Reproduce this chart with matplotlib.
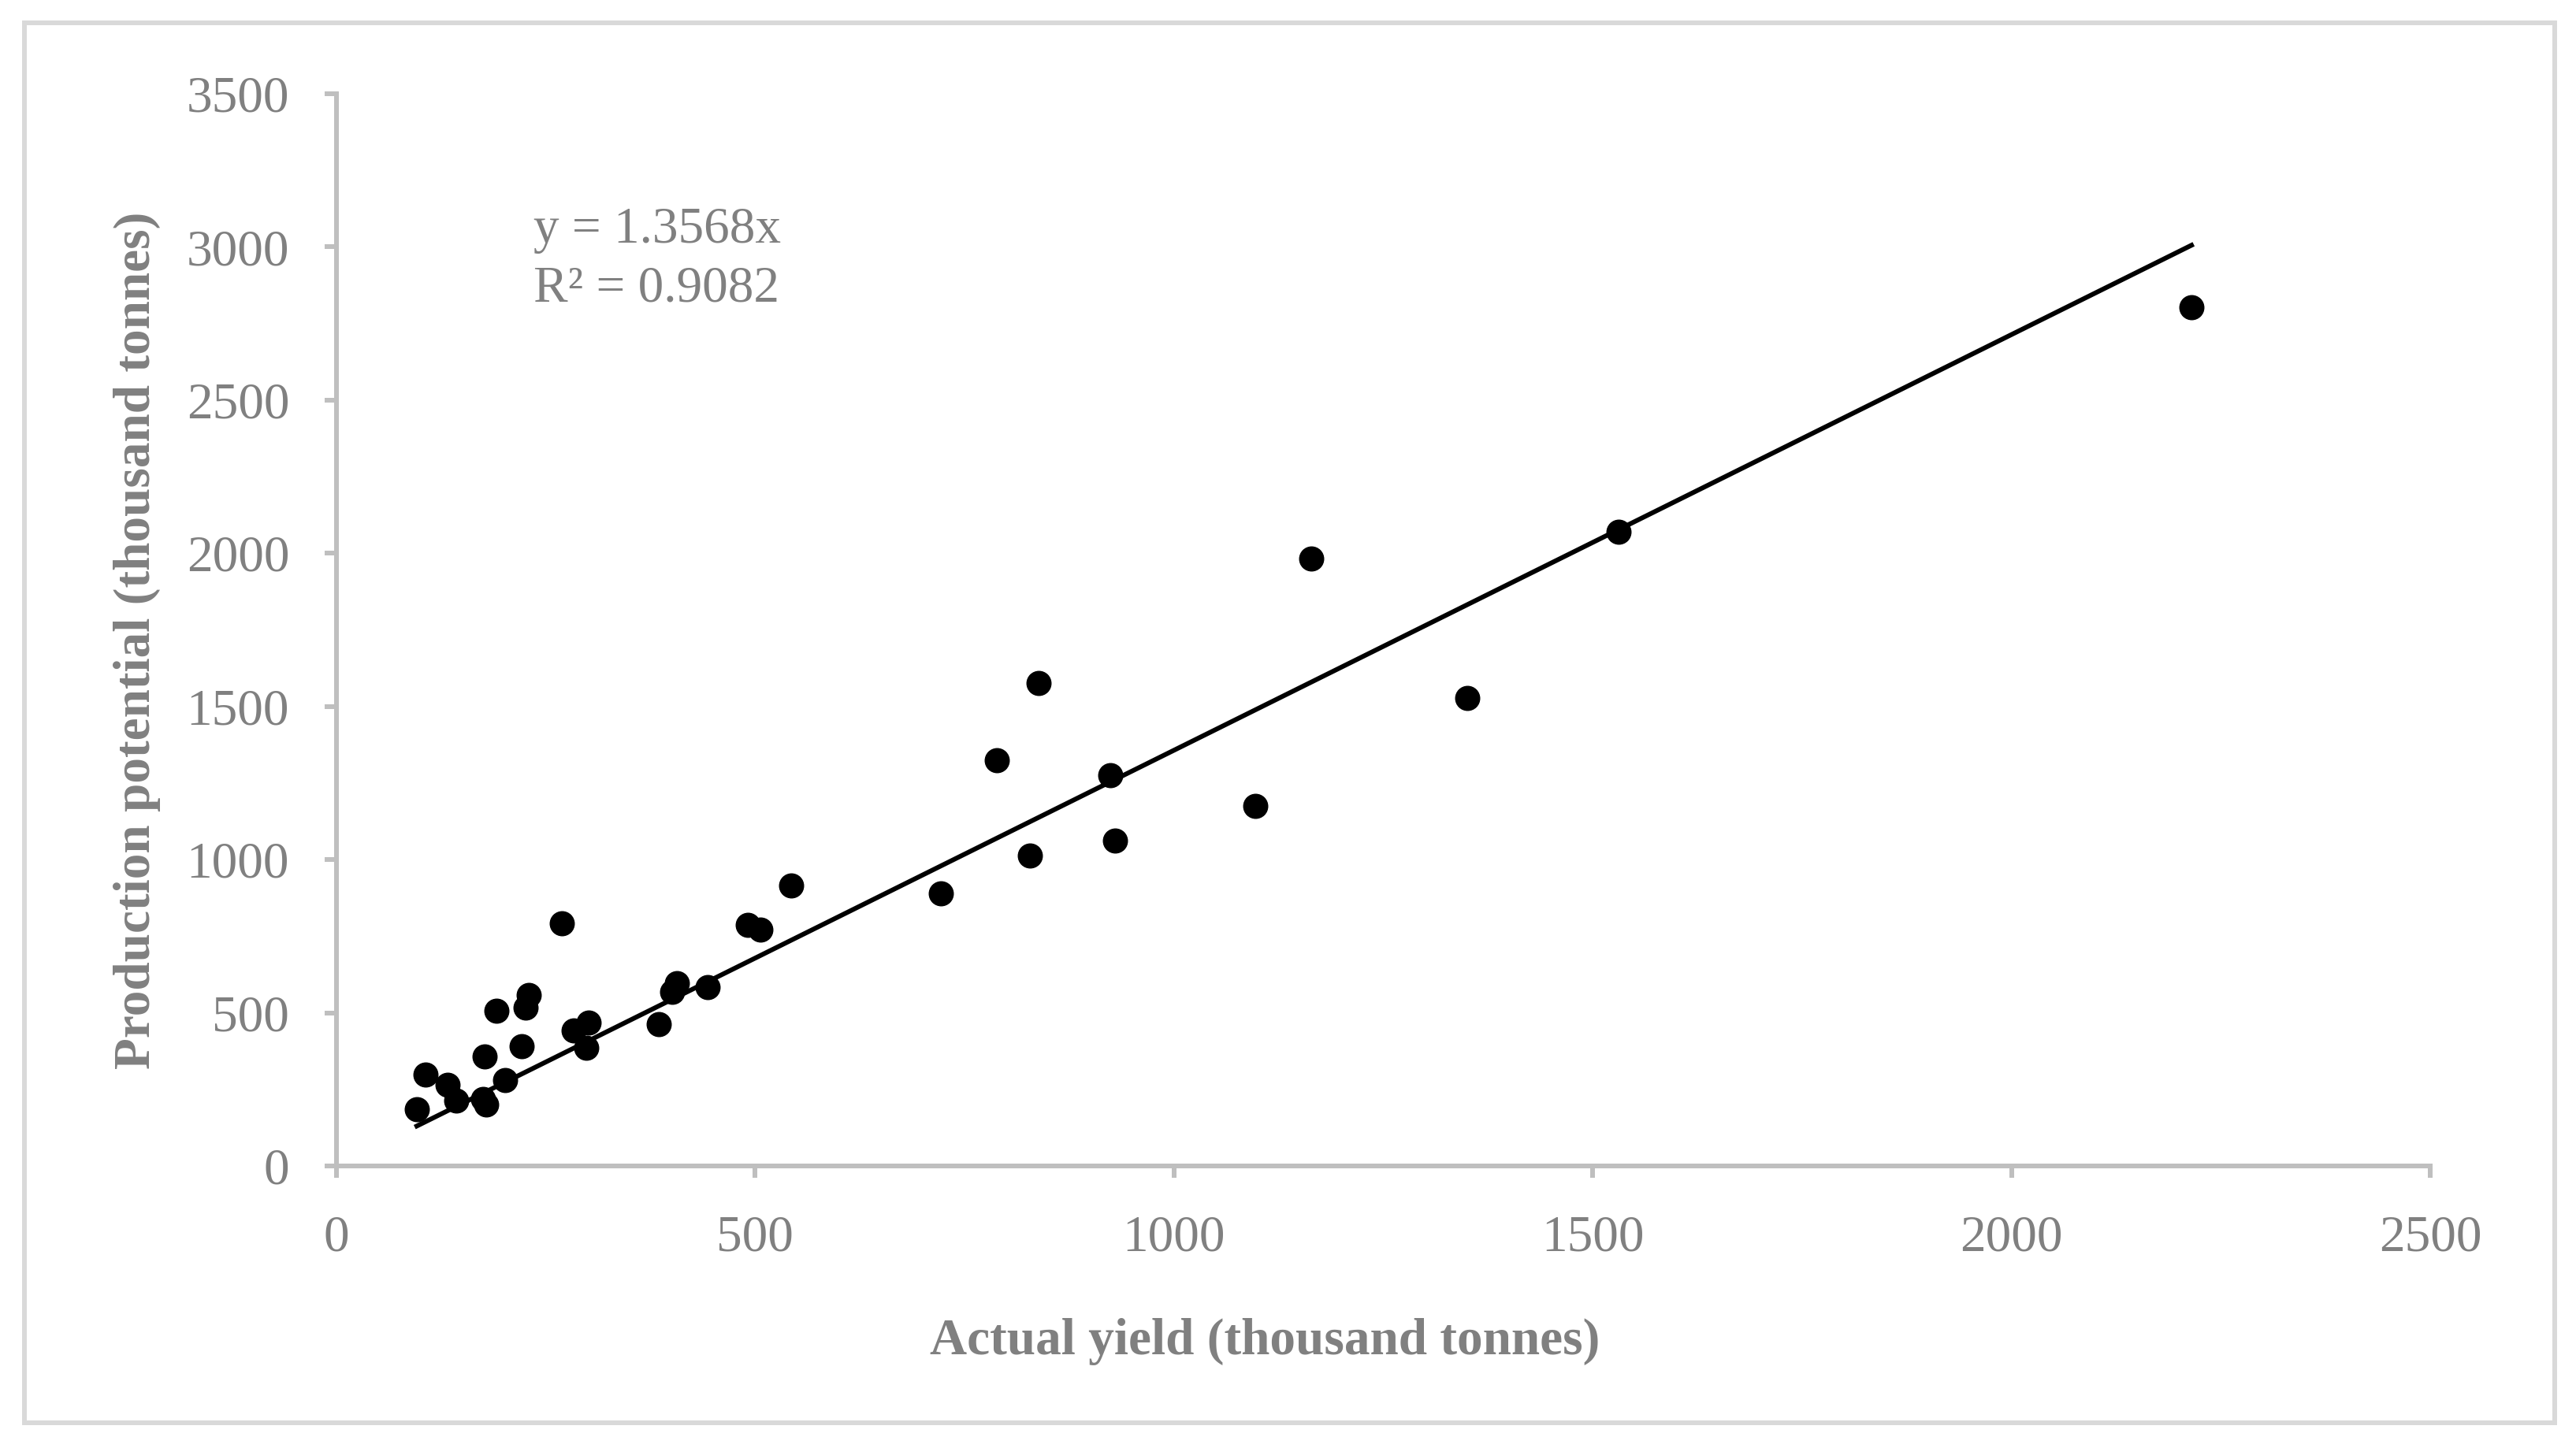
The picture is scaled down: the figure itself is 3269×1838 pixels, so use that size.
import matplotlib.pyplot as plt
from matplotlib.patches import Rectangle

# Datos (miles de toneladas)
actual_yield = [96, 106, 133, 143, 175, 179, 201, 177, 191, 230, 226, 221, 269, 283, 301,
                298, 385, 401, 407, 443, 491, 506, 543, 722, 789, 828, 838, 924, 930,
                1097, 1164, 1350, 1531, 2215]
production_potential = [185, 298, 266, 214, 219, 201, 281, 358, 506, 557, 518, 390, 793,
                        442, 468, 386, 463, 567, 596, 583, 787, 771, 915, 890, 1324, 1013,
                        1576, 1276, 1061, 1174, 1983, 1528, 2069, 2803]
slope = 1.3568
r2 = 0.9082
x_ticks = [0, 500, 1000, 1500, 2000, 2500]
y_ticks = [0, 500, 1000, 1500, 2000, 2500, 3000, 3500]

GRIS_TEXTO = '#808080'
GRIS_EJE = '#bfbfbf'

plt.rcParams['font.family'] = ['Liberation Serif', 'DejaVu Serif']

fig = plt.figure(figsize=(32.69, 18.38), dpi=100)
ax = fig.add_axes([0.1306, 0.1948, 0.8128, 0.7405])

# Puntos
ax.plot(actual_yield, production_potential, 'o', color='black', markersize=22, zorder=3)

# Línea de tendencia (y = 1.3568x)
x_min, x_max = min(actual_yield), max(actual_yield)
ax.plot([x_min, x_max], [slope * x_min, slope * x_max], color='black', linewidth=4.3, zorder=2)

ax.text(235, 3055, f'y = {slope}x', fontsize=47, color=GRIS_TEXTO, va='center', ha='left')
ax.text(235, 2862, f'R² = {r2}', fontsize=47, color=GRIS_TEXTO, va='center', ha='left')

ax.set_xlim(0, 2500)
ax.set_ylim(0, 3500)
ax.set_xticks(x_ticks)
ax.set_yticks(y_ticks)

for lado in ['top', 'right']:
    ax.spines[lado].set_visible(False)
for lado in ['left', 'bottom']:
    ax.spines[lado].set_color(GRIS_EJE)
    ax.spines[lado].set_linewidth(4.3)

ax.tick_params(axis='both', colors=GRIS_EJE, length=11, width=4.3, labelsize=47,
               labelcolor=GRIS_TEXTO)
ax.tick_params(axis='y', pad=32)
ax.tick_params(axis='x', pad=34)

ax.set_xlabel('Actual yield (thousand tonnes)', fontsize=47, fontweight='bold',
              color=GRIS_TEXTO)
ax.set_ylabel('Production potential (thousand tonnes)', fontsize=47, fontweight='bold',
              color=GRIS_TEXTO)
ax.xaxis.set_label_coords(0.4435, -0.142)
ax.yaxis.set_label_coords(-0.084, 0.49)

# Borde exterior del gráfico
borde = Rectangle((0.0095, 0.0174), 0.9822, 0.9668, transform=fig.transFigure,
                  fill=False, edgecolor='#d9d9d9', linewidth=4.3)
fig.patches.append(borde)

fig.savefig('out.png', dpi=100, facecolor='white')
plt.close(fig)
